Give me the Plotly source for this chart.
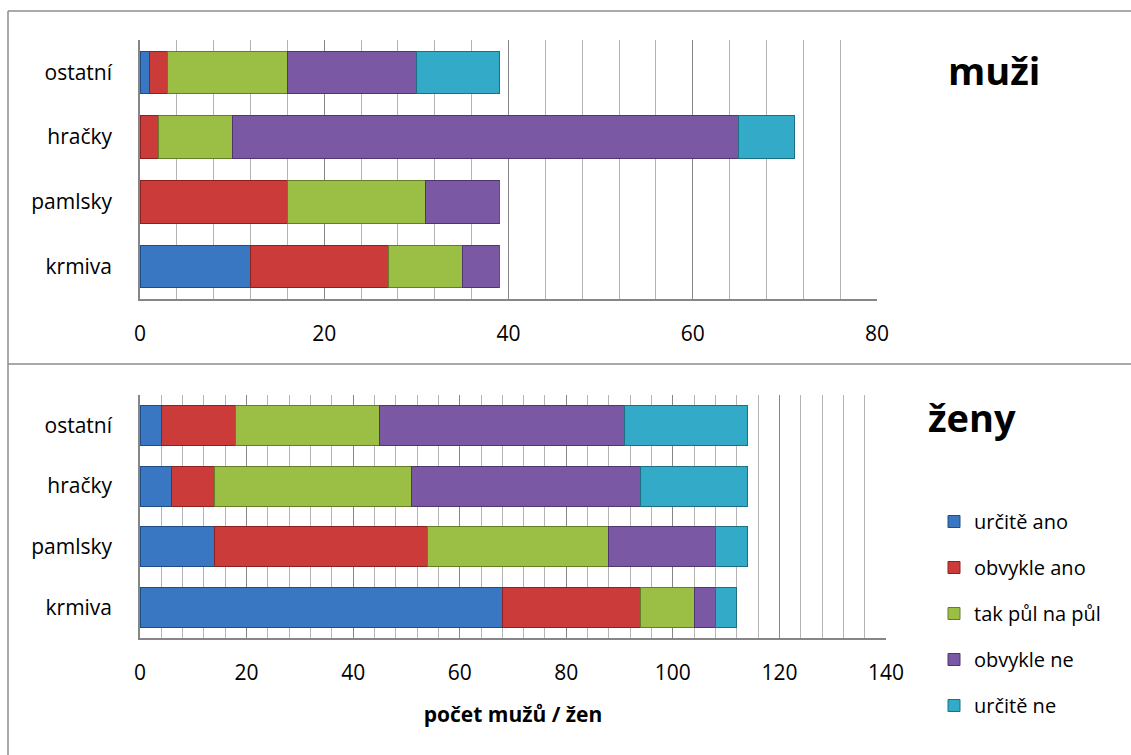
import plotly.graph_objects as go

# Categories (bottom to top as drawn)
categories = ["krmiva", "pamlsky", "hračky", "ostatní"]

# Answer series
series_names = ["určitě ano", "obvykle ano", "tak půl na půl", "obvykle ne", "určitě ne"]
series_colors = ["#3A77C2", "#CB3B39", "#9BBF45", "#7A58A4", "#33ABC8"]
series_lines = ["#1F4E86", "#8A2220", "#647E28", "#4E3670", "#1D6F84"]

# Men (muži) counts per category, one list per answer
muzi_urcite_ano = [12, 0, 0, 1]
muzi_obvykle_ano = [15, 16, 2, 2]
muzi_pul_na_pul = [8, 15, 8, 13]
muzi_obvykle_ne = [4, 8, 55, 14]
muzi_urcite_ne = [0, 0, 6, 9]

# Women (ženy) counts per category
zeny_urcite_ano = [68, 14, 6, 4]
zeny_obvykle_ano = [26, 40, 8, 14]
zeny_pul_na_pul = [10, 34, 37, 27]
zeny_obvykle_ne = [4, 20, 43, 46]
zeny_urcite_ne = [4, 6, 20, 23]

muzi = [muzi_urcite_ano, muzi_obvykle_ano, muzi_pul_na_pul, muzi_obvykle_ne, muzi_urcite_ne]
zeny = [zeny_urcite_ano, zeny_obvykle_ano, zeny_pul_na_pul, zeny_obvykle_ne, zeny_urcite_ne]

W, H = 1131, 755
FONT = "Open Sans"

fig = go.Figure()

for i, name in enumerate(series_names):
    fig.add_trace(go.Bar(
        x=muzi[i], y=categories, orientation="h", name=name,
        marker=dict(color=series_colors[i], line=dict(color=series_lines[i], width=1)),
        xaxis="x", yaxis="y", showlegend=False, legendgroup=name,
    ))
for i, name in enumerate(series_names):
    fig.add_trace(go.Bar(
        x=zeny[i], y=categories, orientation="h", name=name,
        marker=dict(color=series_colors[i], line=dict(color=series_lines[i], width=1)),
        xaxis="x2", yaxis="y2", showlegend=True, legendgroup=name,
    ))


def px_x(p):
    return p / W


def px_y(p):
    return 1 - p / H


tick_font = dict(family=FONT, size=21, color="#000000")

xaxis_common = dict(
    showgrid=True, gridcolor="#868686", gridwidth=1,
    dtick=20, tick0=0,
    minor=dict(dtick=4, tick0=0, showgrid=True, gridcolor="#B4B4B4", gridwidth=1),
    showline=True, linecolor="#868686", linewidth=1.5,
    zeroline=False, ticks="", tickfont=tick_font, ticklabelstandoff=15,
    automargin=False,
)
yaxis_common = dict(
    showgrid=False, showline=True, linecolor="#868686", linewidth=1.5,
    ticks="", tickfont=tick_font, ticklabelstandoff=22,
    categoryorder="array", categoryarray=categories, automargin=False,
)

fig.update_layout(
    width=W, height=H,
    margin=dict(l=0, r=0, t=0, b=0, autoexpand=False),
    paper_bgcolor="#FFFFFF", plot_bgcolor="#FFFFFF",
    barmode="stack", bargap=0.34,
    font=dict(family=FONT, color="#000000"),
    xaxis=dict(domain=[px_x(140), px_x(877)], range=[0, 80], anchor="y", **xaxis_common),
    yaxis=dict(domain=[px_y(299), px_y(40)], anchor="x", **yaxis_common),
    xaxis2=dict(domain=[px_x(140), px_x(886)], range=[0, 140], anchor="y2",
                title=dict(text="<b>počet mužů / žen</b>", font=dict(family=FONT, size=21), standoff=22),
                **xaxis_common),
    yaxis2=dict(domain=[px_y(638), px_y(395)], anchor="x2", **yaxis_common),
    legend=dict(
        x=px_x(934), y=px_y(502), xanchor="left", yanchor="top",
        font=dict(family=FONT, size=20), traceorder="grouped", tracegroupgap=17,
        bgcolor="rgba(0,0,0,0)", itemwidth=30,
    ),
    shapes=[
        # outer frame of the two panels
        dict(type="line", xref="paper", yref="paper", x0=px_x(8), x1=1, y0=px_y(11), y1=px_y(11),
             line=dict(color="#8C8C8C", width=1.5)),
        dict(type="line", xref="paper", yref="paper", x0=px_x(8), x1=px_x(8), y0=px_y(11), y1=0,
             line=dict(color="#8C8C8C", width=1.5)),
        dict(type="line", xref="paper", yref="paper", x0=px_x(8), x1=1, y0=px_y(364), y1=px_y(364),
             line=dict(color="#8C8C8C", width=1.5)),
    ],
    annotations=[
        dict(text="<b>muži</b>", xref="paper", yref="paper", x=px_x(994), y=px_y(70),
             xanchor="center", yanchor="middle",
             showarrow=False, font=dict(family=FONT, size=38, color="#000000")),
        dict(text="<b>ženy</b>", xref="paper", yref="paper", x=px_x(972), y=px_y(417),
             xanchor="center", yanchor="middle",
             showarrow=False, font=dict(family=FONT, size=38, color="#000000")),
    ],
)

fig.write_html("out.html")
